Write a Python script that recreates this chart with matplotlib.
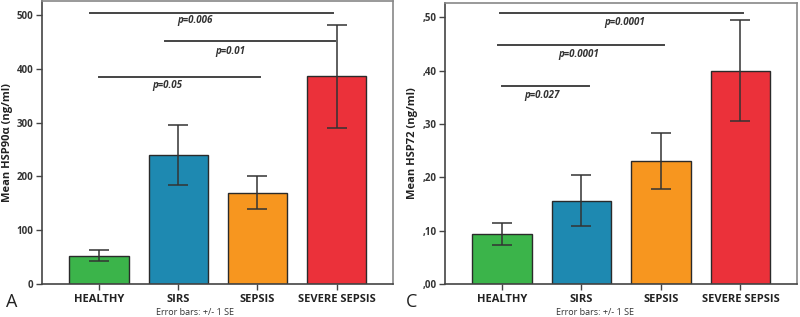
import matplotlib.pyplot as plt

plt.rcParams['font.family'] = ['Open Sans', 'DejaVu Sans']

groups = ['HEALTHY', 'SIRS', 'SEPSIS', 'SEVERE SEPSIS']
colors = ['#3BB44A', '#1E89B1', '#F7961F', '#EB313A']

# panel A: HSP90alpha
hsp90_mean = [53, 240, 170, 386]
hsp90_se = [10, 56, 31, 96]
hsp90_ticks = [0, 100, 200, 300, 400, 500]
hsp90_sig = [  # (x start, x end, y line, text x, text y, label)
    (-0.11, 2.96, 504, 1.21, 489, 'p=0.006'),
    (0.83, 2.98, 452, 1.66, 432, 'p=0.01'),
    (0.0, 2.03, 385, 0.86, 368, 'p=0.05'),
]

# panel C: HSP72
hsp72_mean = [0.094, 0.156, 0.231, 0.400]
hsp72_se = [0.021, 0.048, 0.053, 0.095]
hsp72_ticks = [0.0, 0.1, 0.2, 0.3, 0.4, 0.5]
hsp72_ticklabels = [',00', ',10', ',20', ',30', ',40', ',50']
hsp72_sig = [
    (-0.03, 3.03, 0.509, 1.54, 0.490, 'p=0.0001'),
    (-0.05, 2.04, 0.448, 0.97, 0.431, 'p=0.0001'),
    (0.0, 1.10, 0.371, 0.50, 0.353, 'p=0.027'),
]

fig = plt.figure(figsize=(8, 3.17), dpi=100)
axA = fig.add_axes([0.0525, 0.104, 0.4385, 0.893])
axC = fig.add_axes([0.556, 0.104, 0.44, 0.8865])


def panel(ax, means, ses, ticks, ticklabels, ylim, sig, ylabel):
    x = list(range(len(groups)))
    ax.bar(x, means, width=0.75, color=colors, edgecolor='#2a2a2a', linewidth=1.0, zorder=2)
    ax.errorbar(x, means, yerr=ses, fmt='none', ecolor='#333333', elinewidth=1.1,
                capsize=7, capthick=1.1, zorder=3)
    for x0, x1, yl, tx, ty, lab in sig:
        ax.plot([x0, x1], [yl, yl], color='#444444', lw=1.4, zorder=3)
        ax.text(tx, ty, lab, ha='center', va='center', fontsize=7,
                fontweight='bold', style='italic', color='#333333')
    ax.set_xlim(-0.72, 3.71)
    ax.set_ylim(*ylim)
    ax.set_xticks(x)
    ax.set_xticklabels(groups, fontsize=8, fontweight='bold', color='#222222')
    ax.set_yticks(ticks)
    ax.set_yticklabels(ticklabels, fontsize=7, fontweight='bold', color='#333333')
    ax.tick_params(axis='both', length=4, width=1, color='#444444', pad=2)
    ax.tick_params(axis='x', pad=3)
    ax.set_ylabel(ylabel, fontsize=8, fontweight='bold', color='#222222', labelpad=3)
    for s in ['left', 'bottom']:
        ax.spines[s].set_color('#444444')
        ax.spines[s].set_linewidth(1.2)
    for s in ['top', 'right']:
        ax.spines[s].set_color('#888888')
        ax.spines[s].set_linewidth(1.2)


panel(axA, hsp90_mean, hsp90_se, hsp90_ticks, [str(t) for t in hsp90_ticks],
      (0, 526), hsp90_sig, 'Mean HSP90\u03b1 (ng/ml)')
panel(axC, hsp72_mean, hsp72_se, hsp72_ticks, hsp72_ticklabels,
      (0, 0.527), hsp72_sig, 'Mean HSP72 (ng/ml)')

fig.text(0.007, 0.047, 'A', fontsize=13, color='#222222', va='center')
fig.text(0.507, 0.047, 'C', fontsize=13, color='#222222', va='center')
fig.text(0.244, 0.013, 'Error bars: +/- 1 SE', fontsize=6.5, ha='center', va='center', color='#333333')
fig.text(0.744, 0.013, 'Error bars: +/- 1 SE', fontsize=6.5, ha='center', va='center', color='#333333')

fig.savefig('out.png', dpi=100)
